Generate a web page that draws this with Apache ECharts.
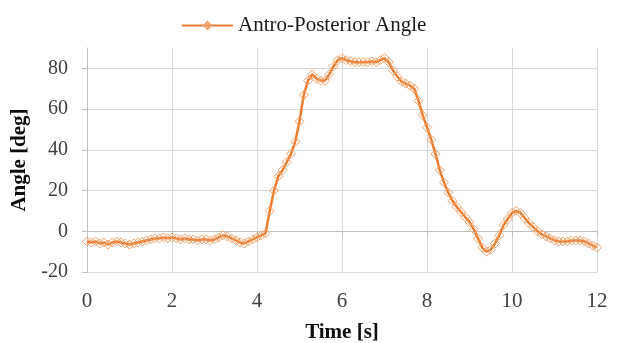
<!DOCTYPE html>
<html>
<head>
<meta charset="utf-8">
<script src="https://cdn.jsdelivr.net/npm/echarts@6/dist/echarts.min.js"></script>
<style>
html,body{margin:0;padding:0;background:#fff;}
#chart{width:619px;height:343px;}
</style>
</head>
<body>
<div id="chart"></div>
<script>
// Time samples [s]
var times = [];
for (var i = 0; i <= 120; i++) { times.push(+(i * 0.1).toFixed(1)); }

// Antro-Posterior Angle [deg], one value per time sample (0.1 s step)
var angleValues = [
  -5, -5.5, -5, -6, -5.5, -6.5, -5.5, -5, -5.5, -6,      // 0.0-0.9
  -6.5, -6, -5.5, -5, -4.5, -4, -3.5, -3.5, -3, -3.5,     // 1.0-1.9
  -3, -3.5, -4, -3.5, -4, -4, -4.5, -4, -4, -4.5,         // 2.0-2.9
  -4, -3, -2, -2.5, -3.5, -4.5, -5.5, -6, -5, -4,         // 3.0-3.9
  -3, -2, -1, 10, 20, 27, 30, 34, 38, 44,                 // 4.0-4.9
  54, 67, 74, 77, 75, 74, 74, 77, 81, 84,                 // 5.0-5.9
  85, 84, 83.5, 83, 83, 83, 83, 83.5, 83, 84,             // 6.0-6.9
  85, 83, 79, 76, 73.5, 72.5, 71.5, 70, 64, 57,           // 7.0-7.9
  51, 45, 38, 30, 24, 19, 15, 12, 9.5, 7,                 // 8.0-8.9
  4.5, 1, -3.5, -8, -10, -9, -6, -2, 3, 6,                // 9.0-9.9
  9, 10, 9, 6.5, 4, 2, 0, -1.5, -2.5, -3.5,               // 10.0-10.9
  -4.5, -5, -5, -5, -4.5, -4.5, -4.5, -5, -6, -7,         // 11.0-11.9
  -8                                                      // 12.0
];

var xTicks = [0, 2, 4, 6, 8, 10, 12];
var yTicks = [-20, 0, 20, 40, 60, 80];

var seriesName = 'Antro-Posterior Angle';
var xName = 'Time [s]';
var yName = 'Angle [deg]';

var seriesData = times.map(function (t, i) { return [t, angleValues[i]]; });

var chart = echarts.init(document.getElementById('chart'), null, {renderer: 'canvas'});
var serif = 'Liberation Serif';
var orange = '#ED7D31';
chart.setOption({
  animation: false,
  backgroundColor: '#ffffff',
  legend: {
    data: [seriesName],
    left: 176,
    top: 10,
    itemWidth: 51,
    itemHeight: 9,
    itemGap: 0,
    textStyle: {fontFamily: serif, fontSize: 21, color: '#1a1a1a'}
  },
  grid: {left: 87, right: 22, top: 48, bottom: 71, containLabel: false, outerBoundsMode: 'none'},
  xAxis: {
    type: 'value',
    min: 0, max: 12, interval: 2,
    name: xName,
    nameLocation: 'middle',
    nameGap: 50,
    nameTextStyle: {fontFamily: serif, fontSize: 21, fontWeight: 'bold', color: '#0d0d0d', verticalAlign: 'top'},
    axisLine: {show: true, lineStyle: {color: '#bfbfbf', width: 1}},
    axisTick: {show: true, length: 6, lineStyle: {color: '#bfbfbf'}, customValues: xTicks},
    axisLabel: {fontFamily: serif, fontSize: 21, color: '#404040', margin: 19, customValues: xTicks},
    splitLine: {show: true, lineStyle: {color: '#d9d9d9', width: 1}}
  },
  yAxis: {
    type: 'value',
    min: -20, max: 90, interval: 20,
    name: yName,
    nameLocation: 'middle',
    nameGap: 46,
    nameTextStyle: {fontFamily: serif, fontSize: 21, fontWeight: 'bold', color: '#0d0d0d'},
    axisLine: {show: true, lineStyle: {color: '#bfbfbf', width: 1}},
    axisTick: {show: true, length: 5, lineStyle: {color: '#bfbfbf'}, customValues: yTicks},
    axisLabel: {fontFamily: serif, fontSize: 20, color: '#404040', margin: 19, customValues: yTicks},
    splitLine: {show: true, lineStyle: {color: '#d9d9d9', width: 1}}
  },
  series: [{
    name: seriesName,
    type: 'line',
    data: seriesData,
    symbol: 'diamond',
    symbolSize: 9,
    showAllSymbol: true,
    lineStyle: {color: orange, width: 2.5},
    itemStyle: {color: 'rgba(255,255,255,0)', borderColor: '#F2A36B', borderWidth: 1}
  }]
});
</script>
</body>
</html>
